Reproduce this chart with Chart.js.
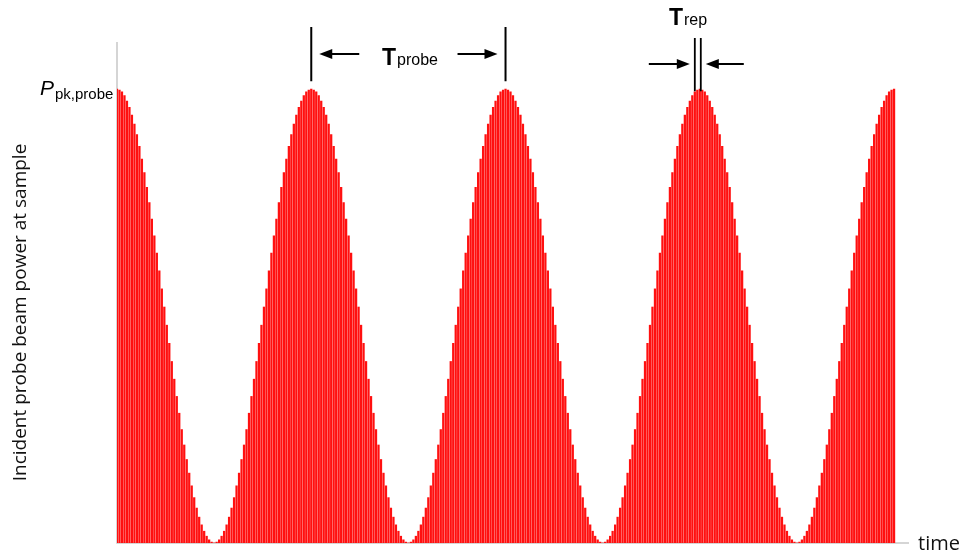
<!DOCTYPE html>
<html>
<head>
<meta charset="utf-8">
<script src="https://cdn.jsdelivr.net/npm/chart.js@4/dist/chart.umd.min.js"></script>
<style>
html,body{margin:0;padding:0;background:#fff;}
#wrap{width:962px;height:558px;position:relative;}
</style>
</head>
<body>
<div id="wrap"><canvas id="c" width="962" height="558"></canvas></div>
<script>
// Pulse peak powers (% of P_pk,probe), one value per laser pulse
const pulsePower = [
100,99.8,99.4,98.6,97.4,96,94.3,92.3,90,87.4,84.6,81.6,78.4,75,71.4,67.7,63.9,60,56,52,48,44,40,36.1,32.3,28.6,25,21.6,18.4,15.4,12.6,10,7.7,5.7,4,2.6,1.5,0.7,0.2,0,0.2,0.7,1.5,2.6,4,5.7,7.7,10,12.6,15.4,18.4,21.6,25,28.6,32.3,36.1,40,44,48,52,56,60,63.9,67.7,71.4,75,78.4,81.6,84.6,87.4,90,92.3,94.3,96,97.4,98.6,99.4,99.8,
100,99.8,99.4,98.6,97.4,96,94.3,92.3,90,87.4,84.6,81.6,78.4,75,71.4,67.7,63.9,60,56,52,48,44,40,36.1,32.3,28.6,25,21.6,18.4,15.4,12.6,10,7.7,5.7,4,2.6,1.5,0.7,0.2,0,0.2,0.7,1.5,2.6,4,5.7,7.7,10,12.6,15.4,18.4,21.6,25,28.6,32.3,36.1,40,44,48,52,56,60,63.9,67.7,71.4,75,78.4,81.6,84.6,87.4,90,92.3,94.3,96,97.4,98.6,99.4,99.8,
100,99.8,99.4,98.6,97.4,96,94.3,92.3,90,87.4,84.6,81.6,78.4,75,71.4,67.7,63.9,60,56,52,48,44,40,36.1,32.3,28.6,25,21.6,18.4,15.4,12.6,10,7.7,5.7,4,2.6,1.5,0.7,0.2,0,0.2,0.7,1.5,2.6,4,5.7,7.7,10,12.6,15.4,18.4,21.6,25,28.6,32.3,36.1,40,44,48,52,56,60,63.9,67.7,71.4,75,78.4,81.6,84.6,87.4,90,92.3,94.3,96,97.4,98.6,99.4,99.8,
100,99.8,99.4,98.6,97.4,96,94.3,92.3,90,87.4,84.6,81.6,78.4,75,71.4,67.7,63.9,60,56,52,48,44,40,36.1,32.3,28.6,25,21.6,18.4,15.4,12.6,10,7.7,5.7,4,2.6,1.5,0.7,0.2,0,0.2,0.7,1.5,2.6,4,5.7,7.7,10,12.6,15.4,18.4,21.6,25,28.6,32.3,36.1,40,44,48,52,56,60,63.9,67.7,71.4,75,78.4,81.6,84.6,87.4,90,92.3,94.3,96,97.4,98.6,99.4,99.8,
100
];
// Pulse indices marking the annotated envelope peaks
const probePeriodMarks = [78, 156];
const repPeriodMarks = [232, 234.4];
const yTitle = "Incident probe beam power at sample";
const xTitle = "time";

const pulseData = pulsePower.map((v, i) => ({x: i, y: v}));

function arrow(ctx, x1, x2, y) {
  const dir = Math.sign(x2 - x1);
  ctx.beginPath();
  ctx.moveTo(x1, y);
  ctx.lineTo(x2 - dir * 8, y);
  ctx.stroke();
  ctx.beginPath();
  ctx.moveTo(x2, y);
  ctx.lineTo(x2 - dir * 13, y - 5);
  ctx.lineTo(x2 - dir * 13, y + 5);
  ctx.closePath();
  ctx.fill();
}

const decor = {
  id: 'decor',
  beforeDatasetsDraw(chart) {
    const {ctx, chartArea: a} = chart;
    ctx.save();
    ctx.strokeStyle = '#c8c8c8';
    ctx.lineWidth = 1.5;
    ctx.beginPath();
    ctx.moveTo(a.left, a.top);
    ctx.lineTo(a.left, a.bottom);
    ctx.lineTo(a.right, a.bottom);
    ctx.stroke();
    ctx.restore();
  },
  afterDraw(chart) {
    const {ctx, chartArea: a, scales} = chart;
    const xs = scales.x, ys = scales.y;
    ctx.save();
    ctx.fillStyle = '#000';
    ctx.strokeStyle = '#000';
    // axis titles
    ctx.save();
    ctx.translate(21, (a.top + a.bottom) / 2 + 20);
    ctx.rotate(-Math.PI / 2);
    ctx.textAlign = 'center';
    ctx.textBaseline = 'middle';
    ctx.font = '19px "Open Sans", "Noto Sans", sans-serif';
    ctx.fillStyle = '#111';
    ctx.fillText(yTitle, 0, 0);
    ctx.restore();
    ctx.font = '20px "Open Sans", "Noto Sans", sans-serif';
    ctx.textAlign = 'left';
    ctx.textBaseline = 'middle';
    ctx.fillStyle = '#111';
    ctx.fillText(xTitle, a.right + 9, a.bottom + 1);

    // P_pk,probe label at top value
    const yPk = ys.getPixelForValue(100);
    ctx.fillStyle = '#000';
    ctx.textBaseline = 'alphabetic';
    ctx.font = 'italic 21px "Liberation Sans", Arial, sans-serif';
    ctx.textAlign = 'left';
    ctx.fillText('P', 40, yPk + 6);
    ctx.font = '15px "Liberation Sans", Arial, sans-serif';
    ctx.fillText('pk,probe', 55, yPk + 10);

    // T_probe annotation
    ctx.lineWidth = 2;
    const p1 = xs.getPixelForValue(probePeriodMarks[0]);
    const p2 = xs.getPixelForValue(probePeriodMarks[1]);
    ctx.beginPath();
    ctx.moveTo(p1, a.top - 15); ctx.lineTo(p1, yPk - 8);
    ctx.moveTo(p2, a.top - 15); ctx.lineTo(p2, yPk - 8);
    ctx.stroke();
    const ay = 54;
    arrow(ctx, p1 + 48, p1 + 8, ay);
    arrow(ctx, p2 - 48, p2 - 8, ay);
    ctx.font = 'bold 23px "Liberation Sans", Arial, sans-serif';
    ctx.fillText('T', 382, 65);
    ctx.font = '16px "Liberation Sans", Arial, sans-serif';
    ctx.fillText('probe', 397, 65);

    // T_rep annotation
    const r1 = xs.getPixelForValue(repPeriodMarks[0]);
    const r2 = xs.getPixelForValue(repPeriodMarks[1]);
    ctx.lineWidth = 1.8;
    ctx.beginPath();
    ctx.moveTo(r1, a.top - 4); ctx.lineTo(r1, yPk + 2);
    ctx.moveTo(r2, a.top - 4); ctx.lineTo(r2, yPk + 2);
    ctx.stroke();
    ctx.lineWidth = 2;
    const ry = 64;
    arrow(ctx, r1 - 46, r1 - 5, ry);
    arrow(ctx, r2 + 43, r2 + 5, ry);
    ctx.font = 'bold 23px "Liberation Sans", Arial, sans-serif';
    ctx.fillText('T', 669, 25);
    ctx.font = '16px "Liberation Sans", Arial, sans-serif';
    ctx.fillText('rep', 684, 25);
    ctx.restore();
  }
};

new Chart(document.getElementById('c'), {
  type: 'bar',
  data: {
    datasets: [{
      data: pulseData,
      backgroundColor: '#ff1010',
      borderWidth: 0,
      barThickness: 1.6
    }]
  },
  options: {
    responsive: false,
    animation: false,
    layout: {padding: {left: 117, right: 53, top: 42, bottom: 15}},
    plugins: {legend: {display: false}, tooltip: {enabled: false}},
    scales: {
      x: {type: 'linear', min: 0, max: 318, display: false, offset: false},
      y: {min: 0, max: 110.4, display: false}
    }
  },
  plugins: [decor]
});
</script>
</body>
</html>
